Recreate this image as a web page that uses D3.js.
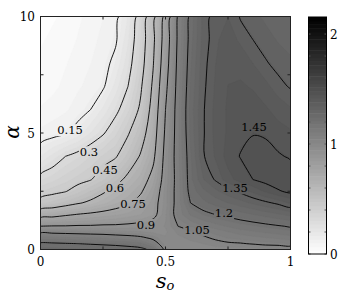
<!DOCTYPE html>
<html>
<head>
<meta charset="utf-8">
<script src="https://cdn.jsdelivr.net/npm/d3@7"></script>
<style>
  body { margin: 0; background: #fff; }
  svg { display: block; }
</style>
</head>
<body>
<svg id="chart" width="346" height="302"></svg>
<script>
// grid columns (s_o) and rows (alpha) of the sampled surface
const sVals = [0, 0.05, 0.1, 0.15, 0.2, 0.25, 0.3, 0.35, 0.4, 0.45, 0.5,
               0.55, 0.6, 0.65, 0.7, 0.75, 0.8, 0.85, 0.9, 0.95, 1];
const alphaVals = [0, 0.25, 0.5, 0.75, 1, 1.5, 2, 2.5, 3, 4, 5, 6, 7, 8, 9, 10];

// surface values, one row per alpha (bottom to top)
const zGrid = [
  [1.26,1.26,1.255,1.25,1.245,1.24,1.235,1.23,1.22,1.18,1.02, 0.99,0.99,0.99,0.99,0.99,0.99,0.99,1.00,1.00,1.00],   // 0
  [1.21,1.21,1.205,1.20,1.195,1.19,1.185,1.175,1.16,1.10,0.99, 0.99,1.00,1.01,1.03,1.04,1.045,1.055,1.065,1.07,1.08], // 0.25
  [1.13,1.13,1.125,1.12,1.115,1.11,1.10,1.09,1.07,1.03,0.98, 1.00,1.02,1.04,1.06,1.08,1.09,1.10,1.11,1.12,1.13],   // 0.5
  [1.03,1.03,1.025,1.02,1.015,1.01,1.00,0.99,0.98,0.97,0.97, 1.02,1.04,1.065,1.09,1.11,1.13,1.14,1.15,1.16,1.17],  // 0.75
  [0.90,0.905,0.905,0.91,0.91,0.915,0.915,0.92,0.93,0.95,0.98, 1.05,1.08,1.11,1.13,1.15,1.165,1.175,1.185,1.195,1.205], // 1
  [0.69,0.71,0.735,0.755,0.77,0.785,0.80,0.82,0.84,0.87,0.97, 1.09,1.15,1.18,1.20,1.215,1.23,1.245,1.26,1.275,1.29], // 1.5
  [0.49,0.52,0.555,0.59,0.62,0.66,0.70,0.735,0.79,0.86,0.96, 1.09,1.20,1.235,1.26,1.28,1.30,1.32,1.34,1.36,1.385], // 2
  [0.40,0.425,0.445,0.49,0.54,0.585,0.635,0.685,0.735,0.83,0.96, 1.09,1.225,1.27,1.305,1.335,1.36,1.39,1.42,1.445,1.46], // 2.5
  [0.33,0.36,0.39,0.42,0.445,0.50,0.56,0.63,0.69,0.79,0.95, 1.09,1.235,1.31,1.355,1.40,1.43,1.45,1.465,1.475,1.475], // 3
  [0.20,0.25,0.30,0.33,0.37,0.41,0.44,0.52,0.61,0.72,0.94, 1.10,1.24,1.345,1.385,1.43,1.452,1.465,1.465,1.455,1.445], // 4
  [0.11,0.125,0.14,0.18,0.235,0.29,0.36,0.44,0.54,0.68,0.92, 1.10,1.255,1.345,1.39,1.42,1.44,1.448,1.445,1.43,1.42], // 5
  [0.07,0.08,0.095,0.12,0.15,0.21,0.275,0.36,0.47,0.65,0.90, 1.10,1.26,1.345,1.39,1.42,1.435,1.435,1.42,1.40,1.385], // 6
  [0.05,0.06,0.075,0.095,0.115,0.14,0.215,0.30,0.43,0.62,0.87, 1.09,1.25,1.34,1.385,1.415,1.42,1.41,1.39,1.365,1.345], // 7
  [0.04,0.05,0.065,0.08,0.10,0.125,0.17,0.26,0.39,0.59,0.84, 1.08,1.24,1.335,1.38,1.405,1.40,1.38,1.355,1.335,1.32], // 8
  [0.03,0.04,0.05,0.07,0.09,0.11,0.14,0.23,0.37,0.57,0.82, 1.07,1.23,1.325,1.375,1.395,1.375,1.35,1.33,1.31,1.30], // 9
  [0.02,0.03,0.04,0.06,0.08,0.10,0.13,0.205,0.345,0.553,0.79, 1.06,1.22,1.325,1.37,1.38,1.345,1.325,1.305,1.29,1.28] // 10
];

// contour levels and where their labels sit (data coords)
const levels = [0.15, 0.3, 0.45, 0.6, 0.75, 0.9, 1.05, 1.2, 1.35, 1.45];
const labelText = ["0.15", "0.3", "0.45", "0.6", "0.75", "0.9", "1.05", "1.2", "1.35", "1.45"];
const labelS = [0.118, 0.194, 0.258, 0.298, 0.37, 0.422, 0.626, 0.734, 0.778, 0.854];
const labelA = [5.13, 4.18, 3.41, 2.66, 1.98, 1.07, 0.84, 1.57, 2.64, 5.26];

// ticks
const xTicks = [0, 0.25, 0.5, 0.75, 1];
const xTickLabels = ["0", "", "0.5", "", "1"];
const yTicks = [0, 2.5, 5, 7.5, 10];
const yTickLabels = ["0", "", "5", "", "10"];
const cbMax = 2.155;
const cbTicks = d3.range(0, 2.01, 0.2);
const cbTickLabels = { 0: "0", 5: "1", 10: "2" };

const serif = "'DejaVu Serif', 'Liberation Serif', serif";

const svg = d3.select("#chart").style("font-family", serif);

// scales
const x = d3.scaleLinear().domain([0, 1]).range([40.5, 290.5]);
const y = d3.scaleLinear().domain([0, 10]).range([249.5, 16.5]);
const gray = d3.scaleLinear().domain([0, cbMax]).range(["#ffffff", "#000000"]);

// contour grid index -> data coords (sample j sits at j + 0.5)
const colIdx = d3.scaleLinear().domain(sVals.map((d, i) => i + 0.5)).range(sVals).clamp(true);
const rowIdx = d3.scaleLinear().domain(alphaVals.map((d, i) => i + 0.5)).range(alphaVals).clamp(true);
const proj = d3.geoTransform({
  point: function(px, py) { this.stream.point(x(colIdx(px)), y(rowIdx(py))); }
});
const path = d3.geoPath(proj);

const nx = sVals.length, ny = alphaVals.length;
const flat = [].concat(...zGrid);
const contours = d3.contours().size([nx, ny]);

svg.append("clipPath").attr("id", "plotClip")
  .append("rect")
  .attr("x", x(0)).attr("y", y(10))
  .attr("width", x(1) - x(0)).attr("height", y(0) - y(10));

const plot = svg.append("g").attr("clip-path", "url(#plotClip)");

// shaded background, 64 bands like the colormap
const nBands = 64;
const bandStep = cbMax / nBands;
const bandLevels = d3.range(1, nBands).map(i => i * bandStep);

plot.append("rect")
  .attr("x", x(0)).attr("y", y(10))
  .attr("width", x(1) - x(0)).attr("height", y(0) - y(10))
  .attr("fill", gray(bandStep / 2));

plot.selectAll("path.band")
  .data(contours.thresholds(bandLevels)(flat))
  .enter().append("path")
  .attr("class", "band")
  .attr("d", path)
  .attr("fill", d => gray(d.value + bandStep / 2))
  .attr("stroke", d => gray(d.value + bandStep / 2))
  .attr("stroke-width", 0.3);

// split contour rings into open lines, dropping the parts on the frame
function ringToLines(ring) {
  const onEdge = p => p[0] <= 0 || p[0] >= nx || p[1] <= 0 || p[1] >= ny;
  const pts = ring.slice(0, ring.length - 1);
  const start = pts.findIndex(onEdge);
  if (start < 0) return [{ closed: true, pts: pts }];
  const rot = pts.slice(start).concat(pts.slice(0, start));
  rot.push(rot[0]);
  const out = [];
  let cur = null;
  for (let i = 0; i < rot.length - 1; i++) {
    const a = rot[i], b = rot[i + 1];
    if (onEdge(a) && onEdge(b)) {
      if (cur) { out.push({ closed: false, pts: cur }); cur = null; }
      continue;
    }
    if (!cur) cur = [a];
    cur.push(b);
  }
  if (cur) out.push({ closed: false, pts: cur });
  return out;
}

const isoLines = [];
contours.thresholds(levels)(flat).forEach(c => {
  c.coordinates.forEach(poly => poly.forEach(ring => {
    ringToLines(ring).forEach(l => isoLines.push(l));
  }));
});

const lineOpen = d3.line()
  .x(p => x(colIdx(p[0]))).y(p => y(rowIdx(p[1])))
  .curve(d3.curveCatmullRom.alpha(0.5));
const lineClosed = d3.line()
  .x(p => x(colIdx(p[0]))).y(p => y(rowIdx(p[1])))
  .curve(d3.curveCatmullRomClosed.alpha(0.5));

// mask to break lines under the labels
const mask = svg.append("mask").attr("id", "labelMask");
mask.append("rect").attr("width", 346).attr("height", 302).attr("fill", "#fff");

plot.append("g")
  .attr("mask", "url(#labelMask)")
  .selectAll("path.iso")
  .data(isoLines)
  .enter().append("path")
  .attr("class", "iso")
  .attr("d", d => d.closed ? lineClosed(d.pts) : lineOpen(d.pts))
  .attr("fill", "none")
  .attr("stroke", "#000")
  .attr("stroke-width", 0.9);

// contour labels
const labels = svg.append("g").selectAll("text.clabel")
  .data(labelText)
  .enter().append("text")
  .attr("class", "clabel")
  .attr("x", (d, i) => x(labelS[i]))
  .attr("y", (d, i) => y(labelA[i]) + 4.2)
  .attr("text-anchor", "middle")
  .style("font-family", serif)
  .style("font-size", "11.5px")
  .text(d => d);

labels.each(function() {
  const b = this.getBBox();
  mask.append("rect")
    .attr("x", b.x - 1).attr("y", b.y + 1)
    .attr("width", b.width + 2).attr("height", b.height - 2)
    .attr("fill", "#000");
});

// axes box and inside ticks
const axes = svg.append("g");
axes.append("rect")
  .attr("x", x(0)).attr("y", y(10))
  .attr("width", x(1) - x(0)).attr("height", y(0) - y(10))
  .attr("fill", "none").attr("stroke", "#222").attr("stroke-width", 1);

xTicks.forEach(t => {
  axes.append("line").attr("x1", x(t)).attr("x2", x(t))
    .attr("y1", y(0)).attr("y2", y(0) - 3).attr("stroke", "#222");
  axes.append("line").attr("x1", x(t)).attr("x2", x(t))
    .attr("y1", y(10)).attr("y2", y(10) + 3).attr("stroke", "#222");
});
yTicks.forEach(t => {
  axes.append("line").attr("x1", x(0)).attr("x2", x(0) + 3)
    .attr("y1", y(t)).attr("y2", y(t)).attr("stroke", "#222");
  axes.append("line").attr("x1", x(1)).attr("x2", x(1) - 3)
    .attr("y1", y(t)).attr("y2", y(t)).attr("stroke", "#222");
});

axes.selectAll("text.xt")
  .data(xTicks)
  .enter().append("text")
  .attr("class", "xt")
  .attr("x", d => x(d))
  .attr("y", 266)
  .attr("text-anchor", "middle")
  .style("font-family", serif)
  .style("font-size", "12px")
  .text((d, i) => xTickLabels[i]);

axes.selectAll("text.yt")
  .data(yTicks)
  .enter().append("text")
  .attr("class", "yt")
  .attr("x", 35)
  .attr("y", d => y(d) + 4.5)
  .attr("text-anchor", "end")
  .style("font-family", serif)
  .style("font-size", "12px")
  .text((d, i) => yTickLabels[i]);

// axis titles
const xTitle = svg.append("text")
  .attr("x", 165).attr("y", 288)
  .attr("text-anchor", "middle")
  .style("font-family", serif)
  .style("font-style", "italic");
xTitle.append("tspan").style("font-size", "21px").text("s");
xTitle.append("tspan").style("font-size", "13px").attr("dy", 2).text("o");

svg.append("text")
  .attr("transform", "translate(19,132) rotate(-90)")
  .attr("text-anchor", "middle")
  .style("font-family", serif)
  .style("font-size", "20px")
  .style("font-style", "italic")
  .text("α");

// colorbar
const cb = d3.scaleLinear().domain([0, cbMax]).range([254, 17]);
const cbX = 308.5, cbW = 18;
const cbG = svg.append("g");
cbG.selectAll("rect.cbBand")
  .data(d3.range(nBands))
  .enter().append("rect")
  .attr("class", "cbBand")
  .attr("x", cbX)
  .attr("y", i => cb((i + 1) * bandStep))
  .attr("width", cbW)
  .attr("height", i => cb(i * bandStep) - cb((i + 1) * bandStep) + 0.5)
  .attr("fill", i => gray((i + 0.5) * bandStep));

cbTicks.forEach(t => {
  cbG.append("line").attr("x1", cbX).attr("x2", cbX + 2)
    .attr("y1", cb(t)).attr("y2", cb(t)).attr("stroke", "#555");
  cbG.append("line").attr("x1", cbX + cbW).attr("x2", cbX + cbW - 2)
    .attr("y1", cb(t)).attr("y2", cb(t)).attr("stroke", "#555");
});
cbG.append("rect")
  .attr("x", cbX).attr("y", cb(cbMax))
  .attr("width", cbW).attr("height", cb(0) - cb(cbMax))
  .attr("fill", "none").attr("stroke", "#000").attr("stroke-width", 1);

cbG.selectAll("text.cbt")
  .data(cbTicks.filter((t, i) => cbTickLabels[i] !== undefined))
  .enter().append("text")
  .attr("class", "cbt")
  .attr("x", 330)
  .attr("y", d => cb(d) + 4.5)
  .style("font-family", serif)
  .style("font-size", "12px")
  .text(d => cbTickLabels[Math.round(d / 0.2)]);
</script>
</body>
</html>
